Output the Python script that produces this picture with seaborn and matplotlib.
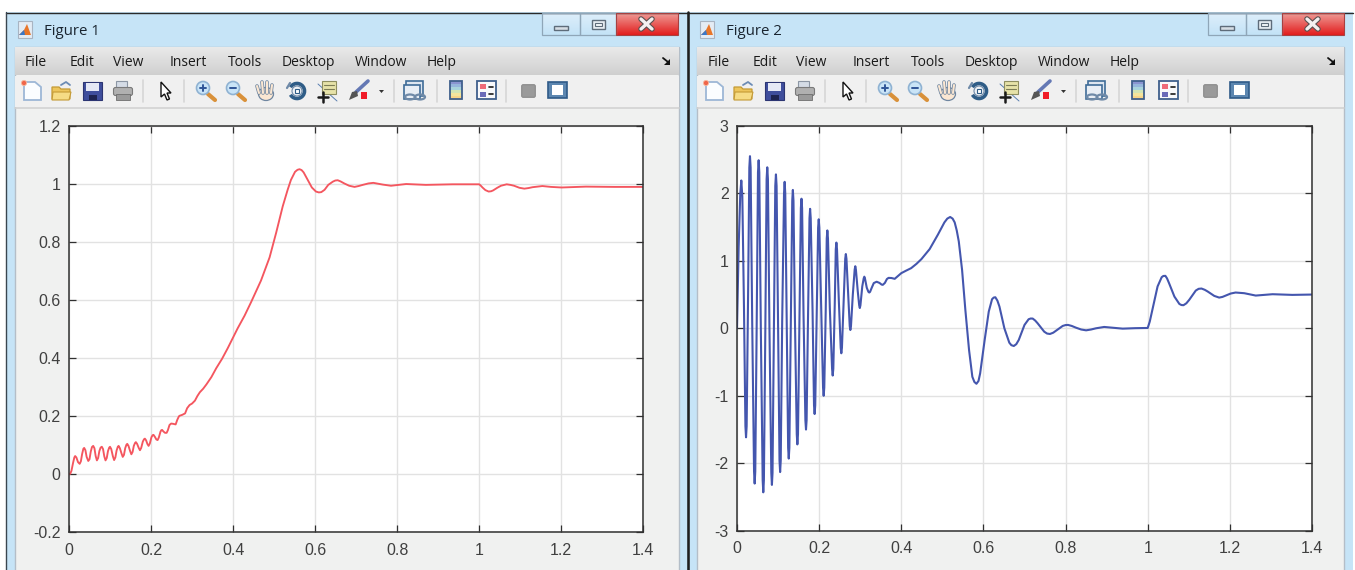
import numpy as np
import matplotlib
matplotlib.use("Agg")
import matplotlib.pyplot as plt
import matplotlib.patches as mp
import seaborn as sns

# step response, (t, y)
red_points = [
    (0, 0), (.003, .002), (.006, .012), (.01, .04), (.013, .058), (.015, .063), (.018, .058), (.022, .042),
    (.026, .036), (.029, .045), (.032, .07), (.035, .088), (.037, .091), (.04, .083), (.043, .06), (.047, .046),
    (.05, .052), (.053, .078), (.056, .094), (.059, .098), (.062, .09), (.065, .063), (.068, .048), (.071, .056),
    (.074, .08), (.077, .092), (.08, .095), (.083, .087), (.086, .062), (.089, .048), (.092, .056), (.095, .08),
    (.098, .092), (.1, .095), (.103, .087), (.107, .062), (.11, .049), (.113, .058), (.116, .082), (.119, .095),
    (.121, .098), (.124, .09), (.128, .072), (.131, .06), (.134, .067), (.137, .09), (.14, .102), (.142, .105),
    (.145, .098), (.149, .08), (.152, .069), (.155, .077), (.158, .098), (.161, .108), (.163, .111), (.166, .105),
    (.17, .091), (.173, .083), (.176, .091), (.18, .113), (.183, .121), (.185, .123), (.188, .117), (.191, .105),
    (.194, .098), (.197, .106), (.201, .128), (.204, .135), (.206, .136), (.209, .13), (.213, .12), (.216, .118),
    (.219, .127), (.223, .147), (.225, .152), (.227, .153), (.23, .148), (.234, .143), (.238, .143), (.241, .152),
    (.245, .17), (.249, .175), (.254, .174), (.26, .172), (.264, .188), (.268, .2), (.27, .202), (.276, .205),
    (.283, .21), (.288, .228), (.294, .239), (.3, .244), (.307, .254), (.313, .27), (.319, .283), (.327, .295),
    (.335, .31), (.347, .335), (.359, .366), (.373, .398), (.387, .435), (.411, .503), (.428, .547), (.444, .594),
    (.468, .668), (.489, .748), (.505, .833), (.521, .924), (.533, .981), (.541, 1.015), (.551, 1.043), (.557, 1.05),
    (.562, 1.052), (.567, 1.049), (.572, 1.041), (.582, 1.015), (.592, .989), (.602, .975), (.609, .972), (.615, .973),
    (.623, .981), (.632, .998), (.643, 1.009), (.649, 1.013), (.655, 1.014), (.662, 1.01), (.671, 1.003), (.683, .995),
    (.696, .991), (.706, .994), (.716, .998), (.73, 1.003), (.742, 1.005), (.753, 1.002), (.765, .999), (.785, .995),
    (.803, .998), (.822, 1.001), (.87, .998), (.935, 1.0), (1.0, 1.0), (1.004, .995), (1.008, .989), (1.015, .98),
    (1.023, .975), (1.029, .976), (1.034, .979), (1.044, .988), (1.053, .995), (1.067, 1.0), (1.076, .998),
    (1.085, .995), (1.098, .988), (1.11, .985), (1.12, .987), (1.13, .99), (1.154, .994), (1.175, .991), (1.201, .989),
    (1.26, .992), (1.33, .991), (1.4, .991),
]

# control signal, (t, u)
blue_points = [
    (0, 0), (.004, 1.2), (.008, 2.0), (.0105, 2.19), (.013, 1.95), (.017, .3), (.0205, -1.45), (.022, -1.615),
    (.0235, -1.45), (.027, .5), (.03, 2.38), (.0316, 2.55), (.0332, 2.38), (.037, .1), (.0415, -2.12), (.043, -2.3),
    (.0445, -2.12), (.048, .1), (.0511, 2.31), (.0527, 2.49), (.0543, 2.31), (.058, 0), (.0625, -2.25), (.064, -2.43),
    (.0655, -2.25), (.069, 0), (.0721, 2.21), (.0737, 2.385), (.0753, 2.21), (.079, 0), (.0835, -2.14), (.085, -2.32),
    (.0865, -2.14), (.09, 0), (.0932, 2.11), (.0948, 2.28), (.0964, 2.11), (.1, .1), (.1035, -1.96), (.105, -2.13),
    (.1065, -1.96), (.11, .1), (.1145, 2.0), (.116, 2.17), (.1175, 2.0), (.121, .1), (.1245, -1.77), (.126, -1.93),
    (.1275, -1.77), (.131, .1), (.1345, 1.89), (.136, 2.05), (.1375, 1.89), (.141, .15), (.1455, -1.57), (.147, -1.72),
    (.1485, -1.57), (.152, .15), (.1555, 1.78), (.157, 1.92), (.1585, 1.78), (.162, .2), (.1665, -1.36), (.168, -1.5),
    (.1695, -1.36), (.173, .2), (.1765, 1.63), (.178, 1.77), (.1795, 1.63), (.184, .25), (.1875, -1.14), (.189, -1.27),
    (.1905, -1.14), (.194, .2), (.1975, 1.49), (.199, 1.615), (.2005, 1.49), (.205, .3), (.2095, -.88), (.211, -1.0),
    (.2125, -.88), (.216, .25), (.2185, 1.33), (.22, 1.45), (.2215, 1.33), (.226, .3), (.2315, -.6), (.233, -.7),
    (.2345, -.6), (.238, .35), (.2405, 1.17), (.242, 1.27), (.2435, 1.17), (.248, .4), (.2525, -.29), (.254, -.37),
    (.2555, -.29), (.26, .45), (.2635, 1.03), (.265, 1.1), (.2665, 1.03), (.271, .45), (.2745, .03), (.276, -.025),
    (.2775, .03), (.282, .5), (.2865, .87), (.288, .92), (.2895, .87), (.294, .55), (.2975, .34), (.299, .3),
    (.3005, .34), (.305, .62), (.3085, .74), (.31, .765), (.3115, .74), (.316, .6), (.32, .54), (.322, .53), (.324, .54),
    (.328, .6), (.333, .67), (.34, .69), (.347, .672), (.352, .648), (.355, .644), (.36, .672), (.365, .73), (.369, .747),
    (.376, .745), (.384, .733), (.392, .775), (.4, .817), (.412, .855), (.424, .891), (.437, .955), (.449, 1.025),
    (.469, 1.173), (.489, 1.386), (.505, 1.569), (.512, 1.625), (.519, 1.649), (.525, 1.625), (.53, 1.569), (.535, 1.45),
    (.54, 1.287), (.548, .866), (.556, .272), (.565, -.322), (.573, -.718), (.578, -.795), (.583, -.822), (.588, -.78),
    (.592, -.668), (.603, -.173), (.613, .248), (.621, .431), (.625, .455), (.629, .46), (.634, .41), (.639, .322),
    (.651, 0), (.663, -.213), (.668, -.25), (.674, -.262), (.68, -.235), (.686, -.173), (.7, .05), (.71, .134),
    (.715, .145), (.72, .144), (.726, .115), (.732, .074), (.748, -.05), (.755, -.078), (.762, -.084), (.77, -.065),
    (.777, -.035), (.793, .035), (.8, .048), (.806, .05), (.815, .035), (.825, .01), (.838, -.018), (.85, -.03),
    (.862, -.018), (.874, 0), (.894, .02), (.915, .008), (.939, -.005), (.97, .002), (1.0, .005), (1.005, .1), (1.013, .32),
    (1.024, .62), (1.034, .757), (1.038, .775), (1.043, .777), (1.047, .74), (1.052, .668), (1.065, .47), (1.077, .361),
    (1.082, .345), (1.087, .342), (1.094, .37), (1.101, .421), (1.117, .559), (1.124, .585), (1.131, .589), (1.139, .57),
    (1.146, .545), (1.162, .48), (1.174, .455), (1.182, .465), (1.19, .485), (1.202, .515), (1.214, .53), (1.235, .52),
    (1.263, .485), (1.285, .495), (1.304, .505), (1.352, .495), (1.4, .5),
]

x_ticks = [0, .2, .4, .6, .8, 1, 1.2, 1.4]
x_labels = ["0", "0.2", "0.4", "0.6", "0.8", "1", "1.2", "1.4"]
y_ticks_red = [-.2, 0, .2, .4, .6, .8, 1, 1.2]
y_labels_red = ["-0.2", "0", "0.2", "0.4", "0.6", "0.8", "1", "1.2"]
y_ticks_blue = [-3, -2, -1, 0, 1, 2, 3]
y_labels_blue = ["-3", "-2", "-1", "0", "1", "2", "3"]
menu_items = ["File", "Edit", "View", "Insert", "Tools", "Desktop", "Window", "Help"]

W, H = 1355, 570
UI_FONT = "Open Sans"
LABEL_GREY = "#404040"

sns.set_theme(style="white")
plt.rcParams["font.family"] = ["Liberation Sans", "DejaVu Sans"]

fig = plt.figure(figsize=(W / 100, H / 100), dpi=100, facecolor="white")
ui = fig.add_axes([0, 0, 1, 1], zorder=0)
ui.set_xlim(0, W)
ui.set_ylim(H, 0)
ui.axis("off")


def box(x0, y0, x1, y1, fc, ec="none", lw=0.8, z=1):
    ui.add_patch(mp.Rectangle((x0, y0), x1 - x0, y1 - y0, fc=fc, ec=ec, lw=lw, zorder=z))


def gradient(x0, y0, x1, y1, c_top, c_bottom):
    # plain stack of 1px strips
    c0 = np.array(matplotlib.colors.to_rgb(c_top))
    c1 = np.array(matplotlib.colors.to_rgb(c_bottom))
    n = int(y1 - y0)
    for i in range(n):
        box(x0, y0 + i, x1, y0 + i + 1.2, c0 + (c1 - c0) * i / max(n - 1, 1), z=1)


def line(xs, ys, c="k", lw=1, z=3):
    ui.plot(xs, ys, color=c, lw=lw, zorder=z, solid_capstyle="round")


def poly(pts, fc, ec="none", lw=0.8, z=3):
    ui.add_patch(mp.Polygon(pts, closed=True, fc=fc, ec=ec, lw=lw, zorder=z))


def draw_icons(o):
    # new file
    poly([(o + 24, 82), (o + 35, 82), (o + 41, 87), (o + 41, 100), (o + 24, 100)], "#FBFDFF", "#9DB7D6", 1.3)
    ui.add_patch(mp.Circle((o + 24, 83), 2.6, fc="#F0664A", ec="#F8B89C", lw=0.6, zorder=4))
    # open
    poly([(o + 52, 87), (o + 59, 87), (o + 61, 89), (o + 70, 89), (o + 70, 99), (o + 52, 99)], "#EDC55B", "#C49A35", 0.9)
    poly([(o + 53, 92), (o + 71, 92), (o + 69, 100), (o + 52, 100)], "#F6DC85", "#C49A35", 0.8)
    line([o + 61, o + 66, o + 70], [85, 82, 85], "#6C8CB5", 1.3)
    # save
    box(o + 83, 82, o + 102, 100, "#3F4E9C", "#2C3572", 0.8, 3)
    box(o + 86, 83, o + 99, 91, "#E5E8F5", z=4)
    box(o + 89, 95, o + 97, 100, "#1E2450", z=4)
    # print
    box(o + 116, 81, o + 127, 88, "#D5DCE6", "#8C96A4", 0.8, 3)
    ui.add_patch(mp.FancyBboxPatch((o + 114, 88), 18, 7, boxstyle="round,pad=0.5,rounding_size=2",
                                   fc="#B0B0B0", ec="#7A7A7A", lw=0.8, zorder=4))
    box(o + 116, 94, o + 130, 100, "#9A9A9A", "#6E6E6E", 0.6, 4)
    # arrow
    poly([(o + 161, 82), (o + 161, 97), (o + 164.5, 94), (o + 167, 100), (o + 169.5, 99), (o + 167, 93), (o + 171, 93)],
         "white", "#111111", 1.0)
    for sx in [143, 184, 394, 437, 506]:
        line([o + sx, o + sx], [80, 102], "#D6D6D6", 1.2)
    # zoom in / zoom out
    for cx, sign in [(204, "+"), (234, "-")]:
        line([o + cx + 4, o + cx + 11], [94, 100], "#D9913A", 3)
        ui.add_patch(mp.Circle((o + cx - 1, 88), 6.5, fc="#C9E4F7", ec="#8FB2D2", lw=1.2, zorder=4))
        line([o + cx - 4, o + cx + 2], [88, 88], "#2F5597", 1.4, 5)
        if sign == "+":
            line([o + cx - 1, o + cx - 1], [85, 91], "#2F5597", 1.4, 5)
    # hand
    ui.add_patch(mp.Ellipse((o + 266, 94), 15, 13, fc="#FBE7D2", ec="#6F86A0", lw=0.9, zorder=3))
    for dx, dtop, top in [(-6, -2, 86), (-2, -1, 82), (2, 0, 82), (6, 1, 85)]:
        line([o + 265 + dx + dtop, o + 265 + dx], [top, 93], "#6F86A0", 2.6, 3)
        line([o + 265 + dx + dtop, o + 265 + dx], [top, 93], "#FBE7D2", 1.5, 4)
    # rotate
    ui.add_patch(mp.Arc((o + 297, 91), 15, 15, theta1=-150, theta2=150, ec="#2F5D87", lw=2.6, zorder=3))
    ui.add_patch(mp.Circle((o + 297, 91), 5, fc="#EEF2F6", ec="#6F8AA8", lw=0.8, zorder=3))
    box(o + 295, 89, o + 299, 93, "#FFFFFF", "#2F5D87", 0.8, 4)
    line([o + 287, o + 290], [88, 83], "#6F8AA8", 1.6)
    # data tip
    box(o + 322, 81, o + 336, 94, "#E6E2A8", "#8E8E60", 0.8, 3)
    line([o + 324, o + 334], [85, 85], "#7C7C55", 0.8, 4)
    line([o + 324, o + 334], [89, 89], "#7C7C55", 0.8, 4)
    line([o + 323, o + 323], [92, 102], "k", 1.8, 5)
    line([o + 318, o + 328], [97, 97], "k", 1.8, 5)
    line([o + 318, o + 337], [84, 101], "#5A7FB0", 0.7, 2)
    # brush
    line([o + 356, o + 368], [92, 81], "#6478B4", 2.6)
    poly([(o + 349, 100), (o + 352, 92), (o + 357, 91), (o + 358, 96)], "#555555")
    box(o + 361, 92, o + 367, 99, "#F01C28", z=4)
    poly([(o + 379, 90), (o + 384, 90), (o + 381.5, 93)], "#333333")
    # link
    box(o + 406, 81, o + 423, 96, "#DDE5EF", "#3F6C98", 1.2, 3)
    box(o + 404, 85, o + 420, 99, "#E8EEF5", "#3F6C98", 1.2, 4)
    ui.add_patch(mp.Ellipse((o + 410, 97), 10, 5, fc="none", ec="#6F8AA8", lw=1.6, zorder=5))
    ui.add_patch(mp.Ellipse((o + 420, 97), 10, 5, fc="none", ec="#6F8AA8", lw=1.6, zorder=5))
    # colorbar
    strips = ["#8A94D0", "#96B6DC", "#A8D4DC", "#D2E4B4", "#F4E49C", "#F8D488"]
    for i, s in enumerate(strips):
        box(o + 450, 81 + i * 3, o + 462, 84.5 + i * 3, s, z=3)
    box(o + 450, 81, o + 462, 99, "none", "#3F5F8C", 1.3, 4)
    # legend
    box(o + 477, 81, o + 496, 99, "#F8F8FA", "#3F5F8C", 1.3, 3)
    box(o + 480, 84, o + 486, 89, "#EE6A78", z=4)
    box(o + 480, 92, o + 486, 97, "#6A6AB8", z=4)
    line([o + 489, o + 493], [87, 87], "k", 1.2, 4)
    line([o + 489, o + 493], [94, 94], "k", 1.2, 4)
    # hide plot tools / show plot tools
    ui.add_patch(mp.FancyBboxPatch((o + 522, 85), 13, 12, boxstyle="round,pad=0.3,rounding_size=1.5",
                                   fc="#9A9A9A", ec="#8A8A8A", lw=0.8, zorder=3))
    box(o + 548, 82, o + 567, 98, "#5C86B0", "#2F5A88", 1.2, 3)
    box(o + 552, 85, o + 563, 95, "white", z=4)


def draw_window(left, inner_l, inner_r, right, name, text_shift, btn):
    box(left, 12, right, H + 2, "#C6E4F7", z=0.5)
    line([left, right], [12.5, 12.5], "#2A2A2A", 1.0, 2)
    line([left, left], [12, H], "#3A4650", 1.0, 2)
    box(inner_l, 47, inner_r, H + 2, "#F0F1F0", "#B4BEC8", 1.0, 0.8)
    gradient(inner_l, 47, inner_r, 75, "#E9E9E9", "#CFCFCF")
    box(inner_l, 75.5, inner_r, 107, "#F0F0F0", z=1)
    line([inner_l, inner_r], [107.5, 107.5], "#D2D2D2", 1.2, 2)
    # title and logo
    box(left + 12, 21, left + 26, 38, "#E4ECF4", "#A8B4C2", 0.8, 2)
    poly([(left + 13, 35), (left + 18, 30), (left + 21, 24), (left + 25, 35)], "#E8762A", z=3)
    poly([(left + 13, 35), (left + 18, 30), (left + 19, 35)], "#3B78C8", z=4)
    ui.text(left + 38.5, 35, name, family=UI_FONT, fontsize=10.8, color="#1A2530", ha="left", va="baseline", zorder=5)
    # menu
    menu_x = [36, 82, 128, 188, 245, 308, 381, 442]
    for m, mx in zip(menu_items, menu_x):
        ui.text(mx + text_shift, 65.5, m, family=UI_FONT, fontsize=10, color="#1A1A1A", ha="center", va="baseline", zorder=5)
    poly([(inner_r - 9, 58.5), (inner_r - 9, 65), (inner_r - 15, 65)], "#111111")
    line([inner_r - 16, inner_r - 11], [58, 62], "#111111", 1.3)
    # window buttons
    gradient(btn, 13, btn + 74, 35, "#DDEEFA", "#C3E2F6")
    box(btn, 13, btn + 38, 35, "none", "#8FA6B8", 0.9, 2)
    box(btn + 38, 13, btn + 74, 35, "none", "#8FA6B8", 0.9, 2)
    box(btn + 12, 26, btn + 26, 30, "#D5DDE4", "#5E6C7A", 1.0, 3)
    box(btn + 50, 20, btn + 63, 29, "#E8EEF3", "#5E6C7A", 1.0, 3)
    box(btn + 53, 23, btn + 60, 26, "#F4F8FB", "#5E6C7A", 0.8, 4)
    gradient(btn + 74, 13, btn + 136, 35, "#EE9A95", "#E21E1E")
    box(btn + 74, 13, btn + 136, 35, "none", "#A84040", 0.8, 2)
    line([btn + 99, btn + 110], [19, 29], "#5A5050", 4, 3)
    line([btn + 110, btn + 99], [19, 29], "#5A5050", 4, 3)
    line([btn + 99, btn + 110], [19, 29], "#F4F0F0", 2.4, 4)
    line([btn + 110, btn + 99], [19, 29], "#F4F0F0", 2.4, 4)


draw_window(6, 15, 679, 688, "Figure 1", 0, 542)
draw_window(688, 697, 1344, 1353, "Figure 2", 683, 1208)
draw_icons(0)
draw_icons(682)
line([688, 688], [12, H], "#1E1E1E", 1.8, 6)


def chart(px0, px1, py0, py1, points, color, width, yticks, ylabels, ylim):
    xs, ys = zip(*points)
    ax = fig.add_axes([px0 / W, 1 - py1 / H, (px1 - px0) / W, (py1 - py0) / H], zorder=2, facecolor="white")
    sns.lineplot(x=list(xs), y=list(ys), ax=ax, color=color, lw=width, errorbar=None, estimator=None, sort=False)
    ax.set_xlim(0, 1.4)
    ax.set_ylim(*ylim)
    ax.set_xticks(x_ticks, x_labels)
    ax.set_yticks(yticks, ylabels)
    ax.grid(True, color="#E2E2E2", lw=1)
    ax.set_axisbelow(True)
    ax.tick_params(direction="in", length=5, width=0.9, color="#303030", top=True, right=True, left=True, bottom=True,
                   labelsize=11.5, labelcolor=LABEL_GREY, pad=7.5)
    ax.tick_params(axis="y", pad=6)
    for s in ax.spines.values():
        s.set_color("#303030")
        s.set_linewidth(1.1)
    return ax


chart(69, 643.3, 126.3, 532.3, red_points, "#F4565F", 1.35, y_ticks_red, y_labels_red, (-.2, 1.2))
chart(737, 1312, 125.8, 530.8, blue_points, "#4456AE", 1.5, y_ticks_blue, y_labels_blue, (-3, 3))

fig.savefig("out.png", dpi=100, facecolor="white")
